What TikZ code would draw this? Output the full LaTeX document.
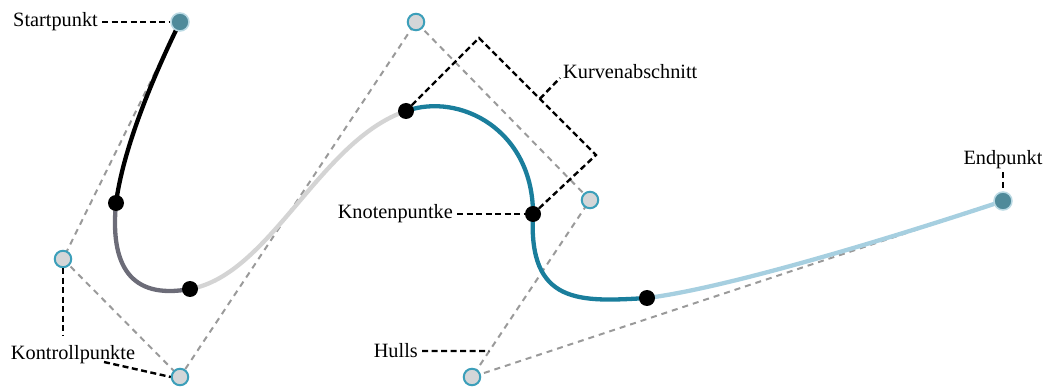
\documentclass[tikz,border=0pt]{standalone}
\usepackage{fontspec}
\setmainfont{Liberation Serif}
\usetikzlibrary{calc}
\definecolor{ctrlfill}{HTML}{D4D6D8}
\definecolor{ctrlring}{HTML}{3C9FBA}
\definecolor{endfill}{HTML}{4F8A9A}
\definecolor{endring}{HTML}{B9D9E3}
\definecolor{hullgray}{HTML}{9A9A9A}
\definecolor{segdark}{HTML}{6C6C78}
\definecolor{seglight}{HTML}{D4D4D4}
\definecolor{segteal}{HTML}{1A7E9C}
\definecolor{segpale}{HTML}{A6CFE0}
\begin{document}
\begin{tikzpicture}[x=1pt,y=-1pt,
  ctrl/.style={circle, fill=ctrlfill, draw=ctrlring, line width=2pt, minimum size=16.5pt, inner sep=0pt},
  endpt/.style={circle, fill=endfill, draw=endring, line width=1.5pt, minimum size=18pt, inner sep=0pt},
  knot/.style={circle, fill=black, minimum size=16pt, inner sep=0pt},
  hull/.style={draw=hullgray, line width=2pt, dash pattern=on 6pt off 5pt},
  lead/.style={draw=black, line width=2.4pt, dash pattern=on 6pt off 3.5pt},
  seg/.style={line width=4.3pt, line cap=round},
  lbl/.style={font=\fontsize{20.3}{23}\selectfont, inner sep=0pt, text=black}]
\useasboundingbox (0,0) rectangle (1052,387);
% positions
\coordinate (pS) at (180,22);
\coordinate (pC1) at (63,259);
\coordinate (pC2) at (180,377);
\coordinate (pC3) at (416,22);
\coordinate (pC4) at (590,200);
\coordinate (pC5) at (472,377);
\coordinate (pE) at (1003,201);
\coordinate (pK1) at (116,203);
\coordinate (pK2) at (190,289);
\coordinate (pK3) at (406,111);
\coordinate (pK4) at (533,214);
\coordinate (pK5) at (647,298);
% hull
\draw[hull] (pS) -- (pC1) -- (pC2) -- (pC3) -- (pC4) -- (pC5) -- (pE);
% curve
\draw[seg, black] (pK1) .. controls (123,150) and (151,81) .. (pS);
\draw[seg, segdark] (pK1) .. controls (110,265) and (130,300) .. (pK2);
\draw[seg, seglight] (pK2) .. controls (270,275) and (320,140) .. (pK3);
\draw[seg, segteal] (pK3) .. controls (460,92) and (533,130) .. (pK4);
\draw[seg, segteal] (pK4) .. controls (528,305) and (580,302) .. (pK5);
\draw[seg, segpale] (pK5) .. controls (720,289) and (870,245) .. (pE);
% nodes
\node[endpt] (S) at (pS) {};
\node[endpt] (E) at (pE) {};
\foreach \c in {C1,C2,C3,C4,C5} \node[ctrl] (\c) at (p\c) {};
\foreach \k in {K1,K2,K3,K4,K5} \node[knot] (\k) at (p\k) {};
% labels
\node[lbl, anchor=east] (tStart) at (98,22) {Startpunkt};
\node[lbl] (tKontroll) at (73,355) {Kontrollpunkte};
\node[lbl, anchor=east] (tKnoten) at (453,214) {Knotenpuntke};
\node[lbl, anchor=east] (tHulls) at (418,351) {Hulls};
\node[lbl] (tEnd) at (1003,160) {Endpunkt};
\node[lbl, anchor=west] (tKurve) at (563,72) {Kurvenabschnitt};
% leaders
\draw[lead] (tStart.east) ++(4,0) -- (S.west);
\draw[lead] (C1.south) -- (63,335);
\coordinate (kl) at (104,362);
\draw[lead] (kl) -- (C2.west);
\draw[lead] (tKnoten.east) ++(4,0) -- (K4.west);
\coordinate (hullpt) at ($(pC5)!0.147!(pC4)$);
\draw[lead] (tHulls.east) ++(4,0) -- (hullpt);
\draw[lead] (tEnd.south) ++(0,3) -- (E.north);
\coordinate (b1) at (479,38);
\coordinate (b2) at (596,155);
\draw[lead] (K3) -- (b1) -- (b2) -- (K4);
\coordinate (bm) at ($(b1)!0.52!(b2)$);
\draw[lead] (bm) -- (560,78);
\end{tikzpicture}
\end{document}
